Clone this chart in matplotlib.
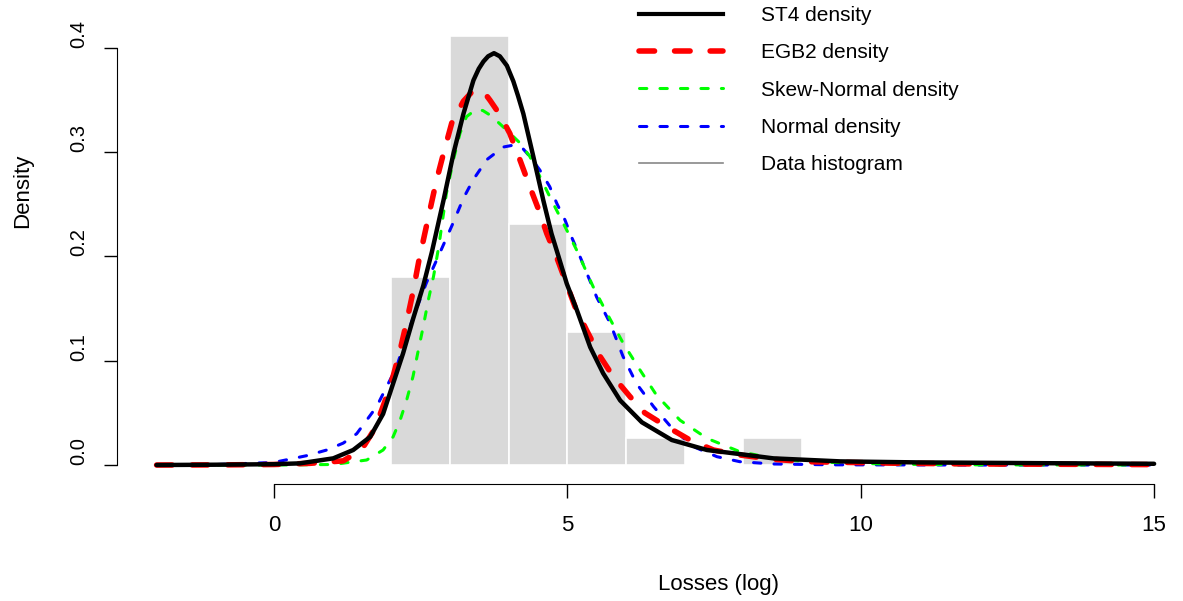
import matplotlib
matplotlib.use("Agg")
import matplotlib.pyplot as plt
from matplotlib.lines import Line2D

plt.rcParams['font.family'] = ['Liberation Sans', 'DejaVu Sans']
plt.rcParams['font.size'] = 15

# histogram of log losses (density scale, unit-width bins)
bin_left = [2, 3, 4, 5, 6, 7, 8]
bin_density = [0.180, 0.411, 0.231, 0.128, 0.026, 0.0, 0.026]

# fitted densities
st4_x = [-2.0, -1.0, 0.0, 0.44, 1.01, 1.35, 1.64, 1.86, 2.03, 2.20, 2.37, 2.545, 2.69,
         2.89, 3.06, 3.23, 3.40, 3.49, 3.57, 3.65, 3.75, 3.85, 3.97, 4.08, 4.16,
         4.25, 4.42, 4.59, 4.73, 4.85, 4.99, 5.16, 5.39, 5.61, 5.90, 6.27, 6.78,
         7.38, 7.94, 8.51, 9.65, 11.0, 13.0, 15.0]
st4_y = [0.0, 0.0003, 0.0008, 0.0016, 0.0064, 0.0144, 0.027, 0.049, 0.078, 0.107, 0.140,
         0.172, 0.204, 0.254, 0.299, 0.337, 0.369, 0.380, 0.387, 0.392, 0.395, 0.392,
         0.383, 0.368, 0.354, 0.337, 0.296, 0.254, 0.222, 0.200, 0.174, 0.149,
         0.113, 0.088, 0.062, 0.041, 0.024, 0.0144, 0.0105, 0.0064, 0.0035, 0.0025,
         0.0018, 0.0012]

egb2_x = [-2.0, -1.0, 0.0, 0.61, 1.18, 1.49, 1.72, 1.89, 2.03, 2.15, 2.26, 2.37, 2.47,
          2.66, 2.77, 2.89, 3.03, 3.23, 3.36, 3.51, 3.60, 3.68, 3.85, 4.02, 4.19,
          4.36, 4.51, 4.65, 4.82, 5.13, 5.33, 5.56, 5.78, 6.07, 6.32, 6.69, 7.09,
          7.49, 7.94, 8.51, 9.08, 10.5, 12.0, 15.0]
egb2_y = [0.0, 0.0001, 0.0005, 0.0016, 0.004, 0.0144, 0.035, 0.061, 0.085, 0.110, 0.137,
          0.166, 0.196, 0.245, 0.273, 0.299, 0.328, 0.349, 0.357, 0.360, 0.356, 0.350,
          0.336, 0.318, 0.293, 0.267, 0.245, 0.222, 0.199, 0.152, 0.129, 0.104,
          0.085, 0.0655, 0.050, 0.037, 0.024, 0.0144, 0.0096, 0.0055, 0.0032,
          0.0018, 0.0010, 0.0004]

sn_x = [-2.0, 0.0, 1.01, 1.58, 1.86, 2.03, 2.15, 2.26, 2.37, 2.46, 2.545, 2.63, 2.72,
        2.81, 2.94, 3.06, 3.17, 3.28, 3.44, 3.56, 3.70, 3.97, 4.19, 4.36, 4.53,
        4.73, 4.875, 5.02, 5.16, 5.44, 5.67, 5.95, 6.24, 6.52, 6.92, 7.38, 7.94,
        8.51, 9.08, 10.5, 12.0, 15.0]
sn_y = [0.0, 0.0, 0.0005, 0.0048, 0.0144, 0.027, 0.043, 0.062, 0.085, 0.110, 0.133,
        0.158, 0.181, 0.210, 0.261, 0.293, 0.318, 0.334, 0.341, 0.340, 0.335, 0.321,
        0.309, 0.296, 0.277, 0.254, 0.238, 0.222, 0.206, 0.171, 0.146, 0.117,
        0.091, 0.067, 0.043, 0.0256, 0.0128, 0.0064, 0.0032, 0.0008, 0.0002, 0.0]

norm_x = [-2.0, -1.0, 0.0, 0.56, 0.90, 1.18, 1.41, 1.58, 1.75, 1.92, 2.09, 2.26, 2.43,
          2.60, 2.80, 3.06, 3.23, 3.40, 3.63, 3.91, 4.10, 4.25, 4.36, 4.53, 4.70,
          4.82, 4.96, 5.07, 5.23, 5.50, 5.73, 5.95, 6.18, 6.47, 6.79, 7.15, 7.55,
          7.94, 8.51, 9.5, 12.0, 15.0]
norm_y = [0.0, 0.0004, 0.0025, 0.009, 0.0144, 0.021, 0.030, 0.043, 0.056, 0.075, 0.094,
          0.124, 0.150, 0.175, 0.200, 0.233, 0.256, 0.274, 0.293, 0.305, 0.307, 0.303,
          0.296, 0.283, 0.267, 0.251, 0.235, 0.219, 0.198, 0.161, 0.136, 0.104,
          0.078, 0.056, 0.035, 0.0176, 0.008, 0.0032, 0.001, 0.0002, 0.0, 0.0]

labels = ["ST4 density", "EGB2 density", "Skew-Normal density", "Normal density",
          "Data histogram"]

# line styles (dash lengths in linewidth units)
RED_DASH = (2.8, 3.6)
THIN_DASH = (2.4, 4.3)

W, H = 1183, 601
fig = plt.figure(figsize=(W / 100, H / 100), dpi=100)
# plot region in pixels (R style: axes sit at the region edge)
left_px, right_px, top_px, bot_px = 116.7, 1194.0, 17.0, 484.0
ax = fig.add_axes([left_px / W, 1 - bot_px / H,
                   (right_px - left_px) / W, (bot_px - top_px) / H])
ax.set_xlim(-2.68, 15.68)
ax.set_ylim(-0.0182, 0.4297)

ax.bar(bin_left, bin_density, width=1.0, align='edge', color='#d9d9d9',
       edgecolor='white', linewidth=1.2, zorder=1)

ax.plot(norm_x, norm_y, color='#0000ff', lw=2.2, dashes=THIN_DASH,
        dash_capstyle='round', dash_joinstyle='round', zorder=3)
ax.plot(sn_x, sn_y, color='#00ff00', lw=2.2, dashes=THIN_DASH,
        dash_capstyle='round', dash_joinstyle='round', zorder=3)
ax.plot(egb2_x, egb2_y, color='#ff0000', lw=4.0, dashes=RED_DASH,
        dash_capstyle='round', dash_joinstyle='round', zorder=4)
ax.plot(st4_x, st4_y, color='black', lw=3.2, solid_capstyle='round',
        solid_joinstyle='round', zorder=5)

for s in ['top', 'right']:
    ax.spines[s].set_visible(False)
ax.spines['bottom'].set_bounds(0, 15)
ax.spines['left'].set_bounds(0, 0.4)
ax.set_xticks([0, 5, 10, 15])
ax.set_yticks([0.0, 0.1, 0.2, 0.3, 0.4])
ax.set_yticklabels(["0.0", "0.1", "0.2", "0.3", "0.4"], rotation=90, va='bottom')
ax.tick_params(axis='x', length=10, width=1, pad=12, labelsize=16)
ax.tick_params(axis='y', length=9.5, width=1, pad=11, labelsize=14.5)
ax.set_xlabel("Losses (log)", fontsize=16)
ax.set_ylabel("Density", fontsize=16)
ax.xaxis.set_label_coords(719 / W, 1 - 574 / H, transform=fig.transFigure)
ax.yaxis.set_label_coords(33 / W, 1 - 191 / H, transform=fig.transFigure)

handles = [
    Line2D([], [], color='black', lw=3.0),
    Line2D([], [], color='#ff0000', lw=4.0, dashes=RED_DASH, dash_capstyle='round'),
    Line2D([], [], color='#00ff00', lw=2.2, dashes=THIN_DASH, dash_capstyle='round'),
    Line2D([], [], color='#0000ff', lw=2.2, dashes=THIN_DASH, dash_capstyle='round'),
    Line2D([], [], color='#888888', lw=1.2),
]
fig.legend(handles, labels, loc='upper left', bbox_to_anchor=(635 / W, 1 - 2 / H),
           frameon=False, fontsize=15, handlelength=4.0, handletextpad=1.85,
           labelspacing=0.875, borderaxespad=0, borderpad=0.2)

fig.savefig("out.png", dpi=100)
